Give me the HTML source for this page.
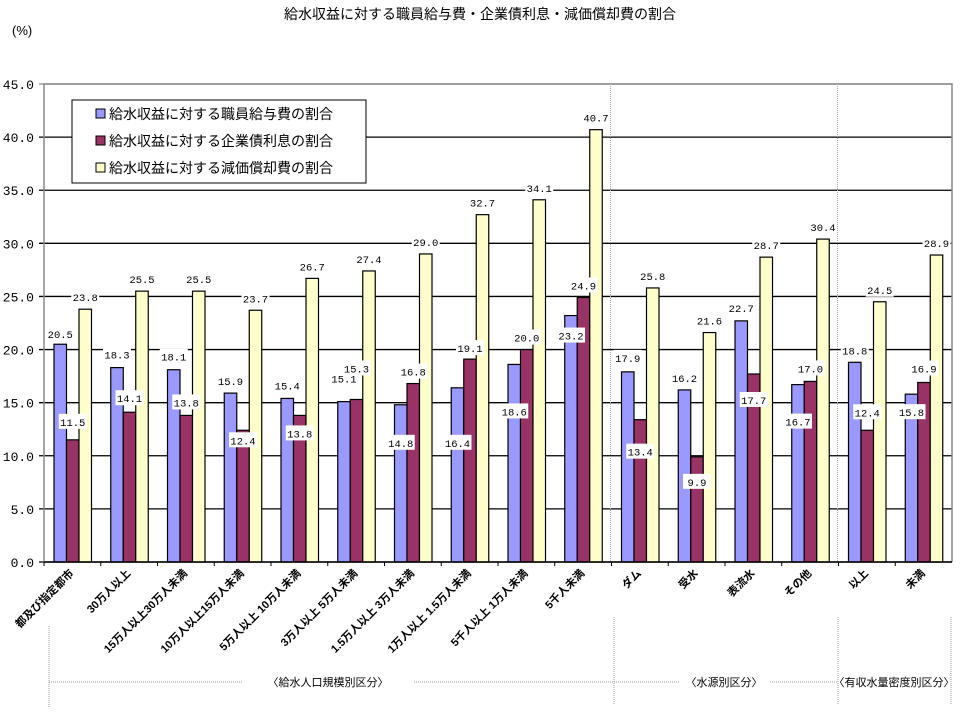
<!DOCTYPE html>
<html><head><meta charset="utf-8"><style>
html,body{margin:0;padding:0;background:#fff;}
body{width:960px;height:713px;overflow:hidden;font-family:"Liberation Sans","Noto Sans CJK JP",sans-serif;}
</style></head><body>
<svg id="chart" width="960" height="713" xmlns="http://www.w3.org/2000/svg" style="font-family:'Liberation Sans','Noto Sans CJK JP',sans-serif">
<text x="480" y="19" font-size="14" text-anchor="middle">給水収益に対する職員給与費・企業債利息・減価償却費の割合</text>
<text x="12" y="35" font-size="13">(%)</text>
<g id="grid"></g>
<g id="seps"></g>
<g id="bars"></g>
<g id="labels"></g>
<g id="yticks"></g>
<g id="xticks"></g>
<g>
<rect x="72" y="100" width="294" height="83" fill="#fff" stroke="#000" stroke-width="1"/>
<rect x="96" y="109" width="9" height="9" fill="#9999ff" stroke="#000"/>
<text x="109" y="119" font-size="14">給水収益に対する職員給与費の割合</text>
<rect x="96" y="136" width="9" height="9" fill="#993366" stroke="#000"/>
<text x="109" y="146" font-size="14">給水収益に対する企業債利息の割合</text>
<rect x="96" y="163" width="9" height="9" fill="#ffffcc" stroke="#000"/>
<text x="109" y="173" font-size="14">給水収益に対する減価償却費の割合</text>
</g>
<g stroke="#999" stroke-dasharray="1,1" stroke-width="1">
<line x1="49" y1="626" x2="49" y2="708"/>
<line x1="614" y1="617" x2="614" y2="705"/>
<line x1="838" y1="617" x2="838" y2="705"/>
<line x1="951" y1="617" x2="951" y2="705"/>
<line x1="49" y1="682" x2="243" y2="682"/>
<line x1="414" y1="682" x2="680" y2="682"/>
<line x1="770" y1="682" x2="838" y2="682"/>
</g>
<text x="328" y="686" font-size="11" text-anchor="middle">〈給水人口規模別区分〉</text>
<text x="724" y="686" font-size="11" text-anchor="middle">〈水源別区分〉</text>
<text x="894" y="686" font-size="11" text-anchor="middle">〈有収水量密度別区分〉</text>
</svg>
<script>
const categories=["都及び指定都市","30万人以上","15万人以上30万人未満","10万人以上15万人未満","5万人以上 10万人未満","3万人以上 5万人未満","1.5万人以上 3万人未満","1万人以上 1.5万人未満","5千人以上 1万人未満","5千人未満","ダム","受水","表流水","その他","以上","未満"];
const salary=[20.5,18.3,18.1,15.9,15.4,15.1,14.8,16.4,18.6,23.2,17.9,16.2,22.7,16.7,18.8,15.8];
const interest=[11.5,14.1,13.8,12.4,13.8,15.3,16.8,19.1,20.0,24.9,13.4,9.9,17.7,17.0,12.4,16.9];
const depreciation=[23.8,25.5,25.5,23.7,26.7,27.4,29.0,32.7,34.1,40.7,25.8,21.6,28.7,30.4,24.5,28.9];
const yTicks=[0,5,10,15,20,25,30,35,40,45];
const yTickLabels=["0.0","5.0","10.0","15.0","20.0","25.0","30.0","35.0","40.0","45.0"];
// label vertical offsets (style)
const salaryDy=[-10,-13,-13,-12,-13,-23,38,55,47,20,-14,-12,-13,37,-12,18];
const interestDy=[-18,-14,-13,10,18,-31,-12,-11,-12,-12,32,25,26,-13,-18,-14];

const NS="http://www.w3.org/2000/svg";
const X0=44,X1=952,Y0=562,YT=84,YMAX=45;
const pitch=(X1-X0)/categories.length;
function y(v){return Y0-(v/YMAX)*(Y0-YT);}
function gx(i){return X0+i*pitch;}
function mk(tag,attrs,parent){const e=document.createElementNS(NS,tag);for(const k in attrs)e.setAttribute(k,attrs[k]);parent.appendChild(e);return e;}
const grid=document.getElementById('grid'),bars=document.getElementById('bars'),labels=document.getElementById('labels'),yt=document.getElementById('yticks'),xt=document.getElementById('xticks'),seps=document.getElementById('seps');

yTicks.forEach((t,i)=>{
  const l=mk('line',{x1:X0-5,x2:X1,y1:y(t),y2:y(t),stroke:i==yTicks.length-1?'#888':'#000','stroke-width':1.3},grid);
  
  
  const tx=mk('text',{x:34,y:y(t)+5,'font-size':13,'text-anchor':'end','font-family':"'Liberation Mono',monospace"},yt);
  tx.textContent=yTickLabels[i];
  
  
});
const frame=mk('path',{d:`M${X0} ${Y0} V${YT} H${X1} V${Y0}`,fill:'none',stroke:'#888','stroke-width':1.5},grid);


[10,14].forEach(k=>{
  const l=mk('line',{x1:gx(k)-1,x2:gx(k)-1,y1:YT,y2:Y0,stroke:'#aaa','stroke-dasharray':'1,1'},seps);
  
  
});
const series=[[salary,'#9999ff','salary',salaryDy],[interest,'#993366','interest',null],[depreciation,'#ffffcc','depreciation',null]];
series[1][3]=interestDy;
categories.forEach((c,i)=>{
  series.forEach((s,j)=>{
    const v=s[0][i];const bx=gx(i)+10+j*12.5;
    const r=mk('rect',{x:bx,y:y(v),width:12.5,height:Y0-y(v),fill:s[1],stroke:'#000','stroke-width':1.2},bars);
    
    
    const dy=s[3]?s[3][i]:-12;
    const cy=y(v)+dy;
    const txt=v.toFixed(1);
    const bg=mk('rect',{x:bx+6.25-14,y:cy-8,width:28,height:15,fill:'#fff'},labels);
    
    
    const t=mk('text',{x:bx+6.25,y:cy+4,'font-size':10.5,'text-anchor':'middle','font-family':"'Liberation Mono',monospace"},labels);
    t.textContent=txt;
    
    
  });
  const tk=mk('line',{x1:gx(i),x2:gx(i),y1:Y0,y2:Y0+4,stroke:'#000'},xt);
  
  
  const cx=gx(i)+pitch/2+2,cy=574;
  const t=mk('text',{x:cx,y:cy,'font-size':11,'font-weight':'bold','text-anchor':'end',transform:`rotate(-45 ${cx} ${cy})`},xt);
  t.textContent=c;
  
  
});
const ax=mk('line',{x1:X0,x2:X1,y1:Y0,y2:Y0,stroke:'#000','stroke-width':1.5},xt);


</script>
</body></html>
